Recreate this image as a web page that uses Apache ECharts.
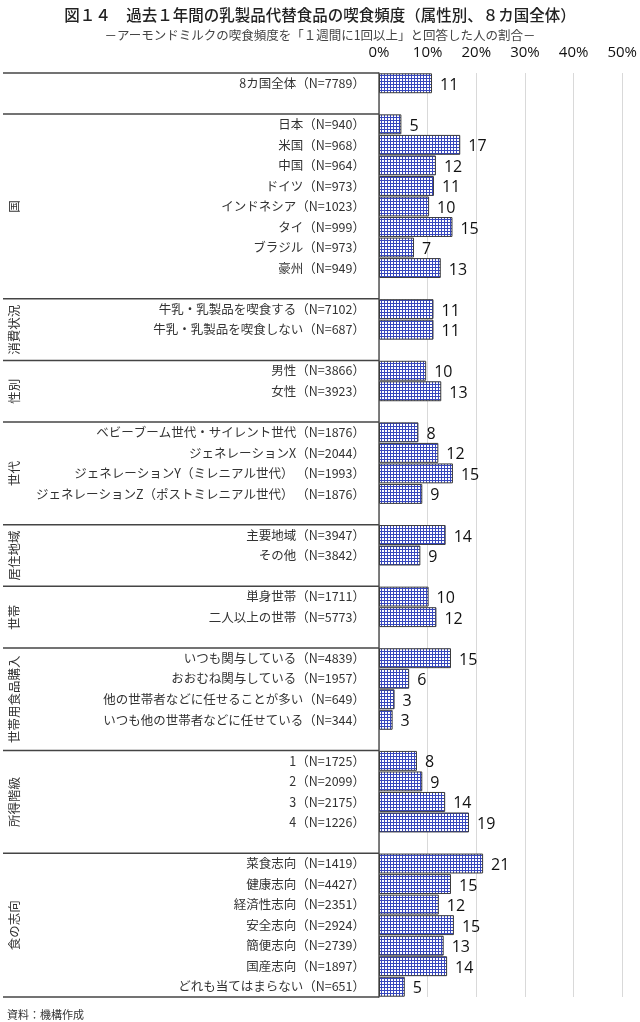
<!DOCTYPE html>
<html><head><meta charset="utf-8">
<script src="https://cdn.jsdelivr.net/npm/echarts@6/dist/echarts.min.js"></script>
<style>html,body{margin:0;padding:0;background:#fff;}#c{width:640px;height:1022px;}</style>
</head><body><div id="c"></div>
<script>
// ---- data ----
const categories = [
  '8カ国全体（N=7789）', '',
  '日本（N=940）', '米国（N=968）', '中国（N=964）', 'ドイツ（N=973）', 'インドネシア（N=1023）', 'タイ（N=999）', 'ブラジル（N=973）', '豪州（N=949）', '',
  '牛乳・乳製品を喫食する（N=7102）', '牛乳・乳製品を喫食しない（N=687）', '',
  '男性（N=3866）', '女性（N=3923）', '',
  'ベビーブーム世代・サイレント世代（N=1876）', 'ジェネレーションX（N=2044）', 'ジェネレーションY（ミレニアル世代） （N=1993）', 'ジェネレーションZ（ポストミレニアル世代） （N=1876）', '',
  '主要地域（N=3947）', 'その他（N=3842）', '',
  '単身世帯（N=1711）', '二人以上の世帯（N=5773）', '',
  'いつも関与している（N=4839）', 'おおむね関与している（N=1957）', '他の世帯者などに任せることが多い（N=649）', 'いつも他の世帯者などに任せている（N=344）', '',
  '1（N=1725）', '2（N=2099）', '3（N=2175）', '4（N=1226）', '',
  '菜食志向（N=1419）', '健康志向（N=4427）', '経済性志向（N=2351）', '安全志向（N=2924）', '簡便志向（N=2739）', '国産志向（N=1897）', 'どれも当てはまらない（N=651）'
];
const values = [
  10.9, null,
  4.6, 16.7, 11.7, 11.3, 10.3, 15.1, 7.2, 12.7, null,
  11.2, 11.2, null,
  9.7, 12.8, null,
  8.1, 12.2, 15.2, 8.9, null,
  13.7, 8.5, null,
  10.2, 11.8, null,
  14.8, 6.2, 3.2, 2.8, null,
  7.8, 8.9, 13.6, 18.5, null,
  21.4, 14.8, 12.3, 15.4, 13.3, 14.0, 5.3
];
const valueLabels = [
  11, null,
  5, 17, 12, 11, 10, 15, 7, 13, null,
  11, 11, null,
  10, 13, null,
  8, 12, 15, 9, null,
  14, 9, null,
  10, 12, null,
  15, 6, 3, 3, null,
  8, 9, 14, 19, null,
  21, 15, 12, 15, 13, 14, 5
];
const groupNames = ['', '国', '消費状況', '性別', '世代', '居住地域', '世帯', '世帯用食品購入', '所得階級', '食の志向'];
const groupSizes = [2, 9, 3, 3, 5, 3, 3, 5, 5, 7];
const xTicks = [0, 10, 20, 30, 40, 50];

// ---- chart ----
const jp = '"Noto Sans CJK JP", "Noto Sans", sans-serif';
const num = '"Liberation Sans Narrow", "Open Sans", "Noto Sans", sans-serif';

const pc = document.createElement('canvas');
pc.width = 3; pc.height = 3;
const pctx = pc.getContext('2d');
pctx.fillStyle = '#ffffff'; pctx.fillRect(0, 0, 3, 3);
pctx.fillStyle = '#3747bd'; pctx.fillRect(0, 0, 3, 1); pctx.fillRect(0, 0, 1, 3);

const axisData = categories.map((c, i) => c || ' '.repeat(i));
const chart = echarts.init(document.getElementById('c'), null, {renderer: 'canvas'});
const option = {
  animation: false,
  backgroundColor: '#fff',
  title: [
    {text: '図１４　過去１年間の乳製品代替食品の喫食頻度（属性別、８カ国全体）', left: 'center', top: 2,
     textStyle: {fontFamily: jp, fontSize: 15.5, fontWeight: 500, color: '#222'}},
    {text: '－アーモンドミルクの喫食頻度を「１週間に1回以上」と回答した人の割合－', left: 'center', top: 24,
     textStyle: {fontFamily: jp, fontSize: 12.5, fontWeight: 'normal', color: '#444'}},
    {text: '資料：機構作成', left: 2, top: 1004,
     textStyle: {fontFamily: jp, fontSize: 11, fontWeight: 'normal', color: '#333'}}
  ],
  grid: {left: 379, right: 17, top: 73, bottom: 25, containLabel: false},
  xAxis: {
    type: 'value', position: 'top', min: xTicks[0], max: xTicks[xTicks.length - 1], interval: 10,
    axisLine: {show: false}, axisTick: {show: false},
    axisLabel: {formatter: '{value}%', fontFamily: num, fontSize: 15, color: '#111', margin: 13},
    splitLine: {show: true, lineStyle: {color: '#d9d9d9', width: 1}}
  },
  yAxis: {
    type: 'category', inverse: true, data: axisData,
    axisLine: {show: true, lineStyle: {color: '#555', width: 1.5}},
    axisTick: {show: false},
    axisLabel: {interval: 0, fontFamily: jp, fontSize: 12.5, color: '#333', margin: 14}
  },
  series: [{
    type: 'bar', data: values, barCategoryGap: '3%',
    itemStyle: {color: {image: pc, repeat: 'repeat'}, borderColor: '#3a3a3a', borderWidth: 1},
    label: {show: true, position: 'right', distance: 8, offset: [0, 2], fontFamily: num, fontSize: 16, color: '#111',
      formatter: p => valueLabels[p.dataIndex] == null ? '' : String(valueLabels[p.dataIndex])}
  }]
};
chart.setOption(option);

function drawGroups() {
  const py = i => chart.convertToPixel({yAxisIndex: 0}, i);
  const slot = py(1) - py(0);
  const x0 = chart.convertToPixel({xAxisIndex: 0}, 0);
  const els = [];
  let idx = 0;
  groupSizes.forEach((n, g) => {
    const top = py(idx) - slot / 2;
    const bottom = py(idx + n - 1) + slot / 2;
    els.push({type: 'line', shape: {x1: 3, y1: top, x2: x0, y2: top}, style: {stroke: '#444', lineWidth: 1.5}, z: 5});
    if (groupNames[g]) {
      els.push({type: 'text', x: 14, y: (top + bottom) / 2, rotation: Math.PI / 2, z: 5,
        style: {text: groupNames[g], fontFamily: jp, fontSize: 12.5, fill: '#333', align: 'center', verticalAlign: 'middle'}});
    }
    idx += n;
    if (g === groupSizes.length - 1) {
      els.push({type: 'line', shape: {x1: 3, y1: bottom, x2: x0, y2: bottom}, style: {stroke: '#444', lineWidth: 1.5}, z: 5});
    }
  });
  chart.setOption({graphic: els});
}
drawGroups();
</script>
</body></html>
